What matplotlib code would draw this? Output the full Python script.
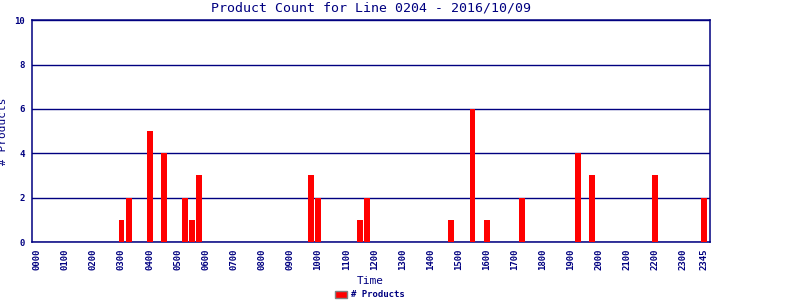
import matplotlib
matplotlib.use("Agg")
import matplotlib.pyplot as plt
from matplotlib.patches import Patch

# 15-minute slots over the day
slots = [f"{h:02d}{m:02d}" for h in range(24) for m in (0, 15, 30, 45)]
counts_by_slot = {
    "0300": 1, "0315": 2, "0400": 5, "0430": 4, "0515": 2, "0530": 1, "0545": 3,
    "0945": 3, "1000": 2, "1130": 1, "1145": 2, "1445": 1, "1530": 6, "1600": 1,
    "1715": 2, "1915": 4, "1945": 3, "2200": 3, "2345": 2,
}
values = [counts_by_slot.get(s, 0) for s in slots]
tick_labels = [f"{h:02d}00" for h in range(24)] + ["2345"]
y_ticks = [0, 2, 4, 6, 8, 10]

navy = "#000080"
fig = plt.figure(figsize=(8, 3), dpi=100)
ax = fig.add_axes([31.5 / 800, 1 - 242 / 300, (710 - 31.5) / 800, (242 - 20.3) / 300])

x = list(range(len(slots)))
ax.bar(x, values, width=0.85, color="#ff0000", zorder=3)

ax.set_xlim(-0.82, len(slots) - 1 + 0.83)
ax.set_ylim(0, 10)
ax.set_yticks(y_ticks)
ax.set_yticklabels([str(v) for v in y_ticks], fontsize=6.5, color=navy,
                   family="DejaVu Sans Mono", fontweight="bold")
tick_pos = [slots.index(t) for t in tick_labels]
ax.set_xticks(tick_pos)
ax.set_xticklabels(tick_labels, rotation=90, fontsize=6.5, color=navy,
                   family="DejaVu Sans Mono", fontweight="bold")
ax.tick_params(length=0, pad=5)
ax.yaxis.grid(True, color=navy, linewidth=1.0, zorder=1)
for sp in ax.spines.values():
    sp.set_color(navy)
    sp.set_linewidth(1.1)

ax.set_title("Product Count for Line 0204 - 2016/10/09", fontsize=9.5, color=navy,
             family="DejaVu Sans Mono", pad=6.5)
ax.set_xlabel("Time", fontsize=8, color=navy, family="DejaVu Sans Mono")
ax.xaxis.set_label_coords(0.5, -0.155)
ax.set_ylabel("# Products", fontsize=8, color=navy, family="DejaVu Sans Mono")
ax.yaxis.set_label_coords(-0.034, 0.5)

leg = fig.legend(handles=[Patch(facecolor="#ff0000", edgecolor="#808080", label="# Products")],
                 loc="lower center", bbox_to_anchor=(370 / 800, -0.025), frameon=False,
                 prop={"family": "DejaVu Sans Mono", "size": 6.5, "weight": "bold"},
                 handlelength=1.3, handleheight=0.9, handletextpad=0.4)
for t in leg.get_texts():
    t.set_color(navy)

fig.savefig("out.png", dpi=100)
